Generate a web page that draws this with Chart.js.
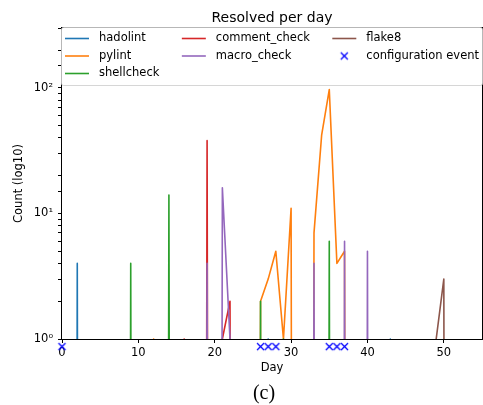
<!DOCTYPE html>
<html>
<head>
<meta charset="utf-8">
<script src="https://cdn.jsdelivr.net/npm/chart.js@4/dist/chart.umd.min.js"></script>
<style>
  html, body { margin: 0; padding: 0; background: #fff; }
</style>
</head>
<body>
<canvas id="resolvedChart" width="483" height="405"></canvas>
<script>
// Resolved per day, one value per day (0 = nothing resolved that day)
const days = [
  0, 1, 2, 3, 4, 5, 6, 7, 8, 9, 10, 11, 12, 13, 14, 15, 16, 17, 18, 19,
  20, 21, 22, 23, 24, 25, 26, 27, 28, 29, 30, 31, 32, 33, 34, 35, 36, 37, 38, 39,
  40, 41, 42, 43, 44, 45, 46, 47, 48, 49, 50, 51, 52
];

const hadolint = [
  0, 0, 4, 0, 0, 0, 0, 0, 0, 0, 0, 0, 0, 0, 0, 0, 0, 0, 0, 0,
  0, 0, 0, 0, 0, 0, 0, 1, 0, 0, 0, 0, 0, 0, 0, 0, 0, 0, 0, 0,
  0, 0, 0, 1, 0, 0, 0, 0, 0, 0, 0, 0, 0
];
const pylint = [
  0, 0, 0, 0, 0, 0, 0, 0, 0, 0, 0, 0, 1, 0, 0, 0, 0, 0, 0, 0,
  0, 0, 0, 0, 0, 0, 2, 3, 5, 1, 11, 0, 0, 7, 42, 97, 4, 5, 0, 0,
  0, 0, 0, 0, 0, 0, 0, 0, 0, 0, 0, 0, 0
];
const shellcheck = [
  0, 0, 0, 0, 0, 0, 0, 0, 0, 4, 0, 0, 0, 0, 14, 0, 0, 0, 0, 0,
  0, 0, 0, 0, 0, 0, 2, 0, 0, 1, 0, 0, 0, 0, 0, 6, 0, 0, 0, 0,
  0, 0, 0, 0, 0, 0, 0, 0, 0, 0, 0, 0, 0
];
const commentCheck = [
  0, 0, 0, 0, 0, 0, 0, 0, 0, 0, 0, 0, 0, 0, 0, 0, 1, 0, 0, 38,
  0, 1, 2, 0, 0, 0, 0, 0, 0, 0, 0, 0, 0, 0, 0, 0, 0, 0, 0, 0,
  0, 0, 0, 0, 0, 0, 0, 0, 0, 0, 0, 0, 0
];
const macroCheck = [
  0, 0, 0, 0, 0, 0, 0, 0, 0, 0, 0, 0, 0, 0, 0, 0, 0, 0, 0, 4,
  0, 16, 1, 0, 0, 0, 0, 0, 0, 0, 0, 0, 0, 4, 0, 0, 0, 6, 0, 0,
  5, 0, 0, 0, 0, 0, 0, 0, 0, 0, 0, 0, 0
];
const flake8 = [
  0, 0, 0, 0, 0, 0, 0, 0, 0, 0, 0, 0, 0, 0, 0, 0, 0, 0, 0, 0,
  0, 0, 0, 0, 0, 0, 0, 0, 0, 0, 0, 0, 0, 0, 0, 0, 0, 0, 0, 0,
  0, 0, 0, 0, 0, 0, 0, 0, 0, 1, 3, 0, 0
];

// configuration events, drawn just under the axis
const eventDays = [0, 26, 27, 28, 35, 36, 37];
const eventLevel = 0.87;

const yTickValues = [1, 10, 100];

// log axis: zero days are pushed far below the axis, like matplotlib's clipping
const LOG_FLOOR = 1e-30;
const toLog = v => (v > 0 ? v : LOG_FLOOR);

const series = [
  { label: 'hadolint', values: hadolint, color: '#1f77b4' },
  { label: 'pylint', values: pylint, color: '#ff7f0e' },
  { label: 'shellcheck', values: shellcheck, color: '#2ca02c' },
  { label: 'comment_check', values: commentCheck, color: '#d62728' },
  { label: 'macro_check', values: macroCheck, color: '#9467bd' },
  { label: 'flake8', values: flake8, color: '#8c564b' }
];

const datasets = series.map((s, i) => ({
  label: s.label,
  data: days.map((d, k) => ({ x: d, y: toLog(s.values[k]) })),
  borderColor: s.color,
  backgroundColor: s.color,
  borderWidth: 1.6,
  borderJoinStyle: 'round',
  pointRadius: 0,
  tension: 0,
  fill: false,
  order: series.length + 1 - i
}));

// small 'x' marker as an image, so it is still drawn below the plot area
function crossMarker(color, half, width) {
  const c = document.createElement('canvas');
  const size = Math.ceil(half * 2 + width + 2);
  c.width = size;
  c.height = size;
  const g = c.getContext('2d');
  const m = size / 2;
  g.strokeStyle = color;
  g.lineWidth = width;
  g.beginPath();
  g.moveTo(m - half, m - half); g.lineTo(m + half, m + half);
  g.moveTo(m - half, m + half); g.lineTo(m + half, m - half);
  g.stroke();
  return c;
}
const eventMarker = crossMarker('#0000ff', 3.5, 1.3);

datasets.push({
  label: 'configuration event',
  data: eventDays.map(d => ({ x: d, y: eventLevel })),
  showLine: false,
  pointStyle: eventMarker,
  pointRadius: 10,
  borderWidth: 0,
  borderColor: '#0000ff',
  backgroundColor: '#0000ff',
  clip: false,
  order: 0
});

const SUP = { '0': '\u2070', '1': '\u00b9', '2': '\u00b2', '3': '\u00b3' };
const FONT = '"DejaVu Sans", sans-serif';

// frame + matplotlib-style legend inside the top of the axes
const insideLegend = {
  id: 'insideLegend',
  afterDatasetsDraw(chart) {
    const { ctx, chartArea: a } = chart;
    ctx.save();
    ctx.strokeStyle = '#000';
    ctx.lineWidth = 1;
    ctx.strokeRect(a.left - 0.5, a.top - 0.5, a.right - a.left + 1, a.bottom - a.top + 1);

    const boxH = 58;
    ctx.beginPath();
    ctx.roundRect(a.left - 0.5, a.top - 0.5, a.right - a.left + 1, boxH, 2);
    ctx.fillStyle = 'rgba(255,255,255,0.8)';
    ctx.fill();
    ctx.strokeStyle = 'rgba(204,204,204,0.8)';
    ctx.stroke();

    ctx.font = '11.5px ' + FONT;
    const items = chart.data.datasets.map(ds => ({
      label: ds.label, color: ds.borderColor, marker: ds.showLine === false
    }));
    const ncol = 3, handle = 24, gap = 10, pad = 3;
    const base = Math.floor(items.length / ncol), extra = items.length % ncol;
    const cols = [];
    let start = 0;
    for (let c = 0; c < ncol; c++) {
      const n = base + (c < extra ? 1 : 0);
      const colItems = items.slice(start, start + n);
      start += n;
      const w = handle + gap + Math.max(...colItems.map(it => ctx.measureText(it.label).width));
      cols.push({ items: colItems, w });
    }
    const used = cols.reduce((t, c) => t + c.w, 0);
    const sep = ((a.right - pad) - (a.left + pad) - used) / (ncol - 1);

    let x = a.left + pad;
    ctx.textBaseline = 'middle';
    ctx.textAlign = 'left';
    cols.forEach(col => {
      col.items.forEach((it, r) => {
        const y = a.top + 10.5 + r * 17.5;
        if (it.marker) {
          ctx.drawImage(eventMarker, x + handle / 2 - eventMarker.width / 2, y - eventMarker.height / 2);
        } else {
          ctx.strokeStyle = it.color;
          ctx.lineWidth = 1.6;
          ctx.beginPath();
          ctx.moveTo(x, y); ctx.lineTo(x + handle, y);
          ctx.stroke();
        }
        ctx.fillStyle = '#000';
        ctx.fillText(it.label, x + handle + gap, y);
      });
      x += col.w + sep;
    });
    ctx.restore();
  },
  afterDraw(chart) {
    const { ctx } = chart;
    ctx.save();
    ctx.font = '20px "Liberation Serif", serif';
    ctx.fillStyle = '#000';
    ctx.textAlign = 'center';
    ctx.textBaseline = 'middle';
    ctx.fillText('(c)', 264, 394);
    ctx.restore();
  }
};

const ctx = document.getElementById('resolvedChart').getContext('2d');
const chart = new Chart(ctx, {
  type: 'line',
  data: { datasets },
  plugins: [insideLegend],
  options: {
    responsive: false,
    animation: false,
    devicePixelRatio: 1,
    layout: { autoPadding: false, padding: { left: 0, right: 1, top: 0, bottom: 21 } },
    plugins: {
      legend: { display: false },
      tooltip: { enabled: false },
      title: {
        display: true,
        text: 'Resolved per day',
        fullSize: false,
        color: '#000',
        font: { family: FONT, size: 14, weight: 'normal' },
        padding: { top: 9.6, bottom: 1.6 }
      }
    },
    scales: {
      x: {
        type: 'linear',
        min: 0,
        max: 55,
        afterFit: s => { s.height = 45; },
        grid: { drawOnChartArea: false, drawTicks: true, tickLength: 4, tickColor: '#000' },
        border: { display: false },
        ticks: {
          stepSize: 10, includeBounds: false, autoSkip: false, maxRotation: 0,
          padding: 3, color: '#000', font: { family: FONT, size: 11.5 }
        },
        title: {
          display: true, text: 'Day', color: '#000',
          font: { family: FONT, size: 11.5 }, padding: { top: 0, bottom: 9 }
        }
      },
      y: {
        type: 'logarithmic',
        min: 1,
        max: 300,
        afterFit: s => { s.width = 62; },
        grid: { drawOnChartArea: false, drawTicks: true, tickLength: 4, tickColor: '#000' },
        border: { display: false },
        ticks: {
          autoSkip: false, padding: 5, color: '#000', font: { family: FONT, size: 11.5 },
          callback: v => {
            const p = Math.round(Math.log10(v));
            if (!yTickValues.includes(v)) return '';
            return '10' + String(p).split('').map(c => SUP[c]).join('');
          }
        },
        title: {
          display: true, text: 'Count (log10)', color: '#000',
          font: { family: FONT, size: 11.5 }, padding: { top: 12.5 }
        }
      }
    }
  }
});
</script>
</body>
</html>
